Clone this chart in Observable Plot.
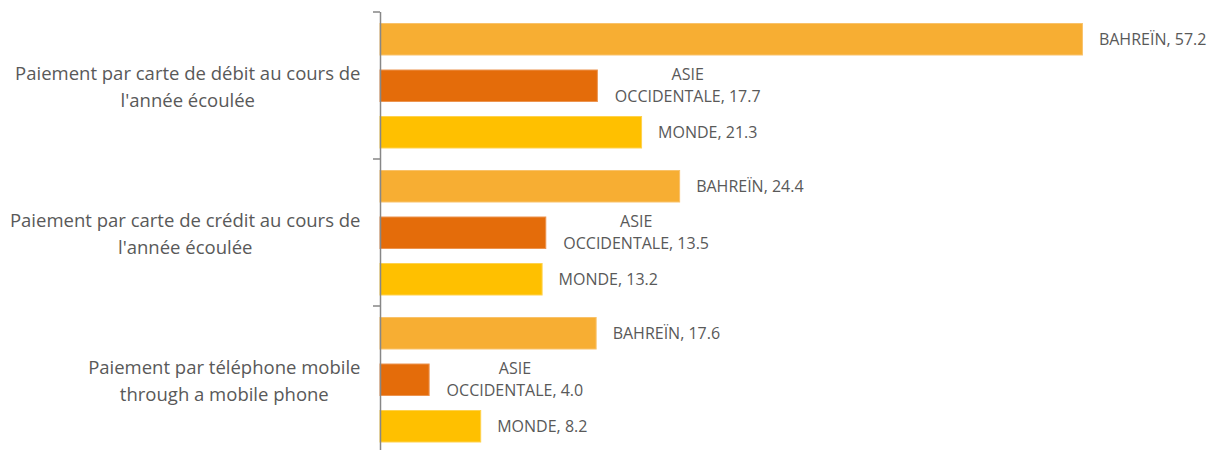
<!DOCTYPE html>
<html><head><meta charset="utf-8">
<script src="https://cdn.jsdelivr.net/npm/d3@7"></script>
<script src="https://cdn.jsdelivr.net/npm/@observablehq/plot@0.6"></script>
<style>body{margin:0;background:#fff;font-family:"Open Sans",sans-serif}</style>
</head><body><div id="chart"></div>
<script>
const categories = [
  "Paiement par carte de débit au cours de\nl'année écoulée",
  "Paiement par carte de crédit au cours de\nl'année écoulée",
  "Paiement par téléphone mobile\nthrough a mobile phone"
];
const seriesNames = ["BAHREÏN", "ASIE\nOCCIDENTALE", "MONDE"];
const bahrein = [57.2, 24.4, 17.6];
const asieOccidentale = [17.7, 13.5, 4.0];
const monde = [21.3, 13.2, 8.2];
const colors = ["#F7AE33", "#E46C0A", "#FFC000"];
const strokes = ["#F9C26A", "#EC9450", "#FFD24D"];

const seriesValues = [bahrein, asieOccidentale, monde];
const FONT = "Open Sans";
const catSize = 18.5, labSize = 16;
const textColor = "#595959", axisColor = "#878787";

const canvas = document.createElement("canvas");
const ctx = canvas.getContext("2d");
function measure(t, size) { ctx.font = `${size}px "${FONT}"`; return ctx.measureText(t).width; }

const band = 147;
const barH = 31.5;
const tops = [11.5, 58, 104.5];

const marks = [];
seriesValues.forEach((vals, si) => {
  const rows = categories.map((c, ci) => ({cat: c, value: vals[ci], label: `${seriesNames[si]}, ${vals[ci].toFixed(1)}`}));
  marks.push(Plot.barX(rows, {
    x: "value", y: "cat", fill: colors[si], stroke: strokes[si], strokeWidth: 1,
    insetTop: tops[si], insetBottom: band - tops[si] - barH
  }));
  const dy = tops[si] + barH / 2 - band / 2;
  if (si === 1) {
    rows.forEach(r => {
      const w = Math.max(...r.label.split("\n").map(l => measure(l, labSize)));
      marks.push(Plot.text([r], {
        x: "value", y: "cat", text: "label", textAnchor: "middle",
        dx: 17 + w / 2, dy: dy - 2, lineHeight: 1.36,
        fill: textColor, fontSize: labSize, fontFamily: FONT
      }));
    });
  } else {
    marks.push(Plot.text(rows, {
      x: "value", y: "cat", text: "label", textAnchor: "start",
      dx: 16, dy: dy, fill: textColor, fontSize: labSize, fontFamily: FONT
    }));
  }
});

categories.forEach(c => {
  const w = Math.max(...c.split("\n").map(l => measure(l, catSize)));
  marks.push(Plot.text([c], {
    y: d => d, text: d => d, frameAnchor: "left", textAnchor: "middle",
    dx: -(20 + w / 2), dy: -1, lineHeight: 1.42, fill: textColor, fontSize: catSize, fontFamily: FONT
  }));
});

marks.push(Plot.barX(categories, {
  y: d => d, x1: -0.57, x2: 0, fill: axisColor,
  insetTop: -0.75, insetBottom: band - 0.75
}));
marks.push(Plot.ruleX([0], {stroke: axisColor, strokeWidth: 1.5}));

const chart = Plot.plot({
  width: 1213, height: 450,
  marginLeft: 380, marginRight: 0, marginTop: 12, marginBottom: 0,
  style: {fontFamily: FONT, background: "#fff"},
  x: {domain: [0, 833 / 12.28], range: [380, 1213], axis: null},
  y: {domain: categories, range: [12, 12 + 3 * band], padding: 0, axis: null},
  marks
});
document.getElementById("chart").appendChild(chart);
</script>
</body></html>
